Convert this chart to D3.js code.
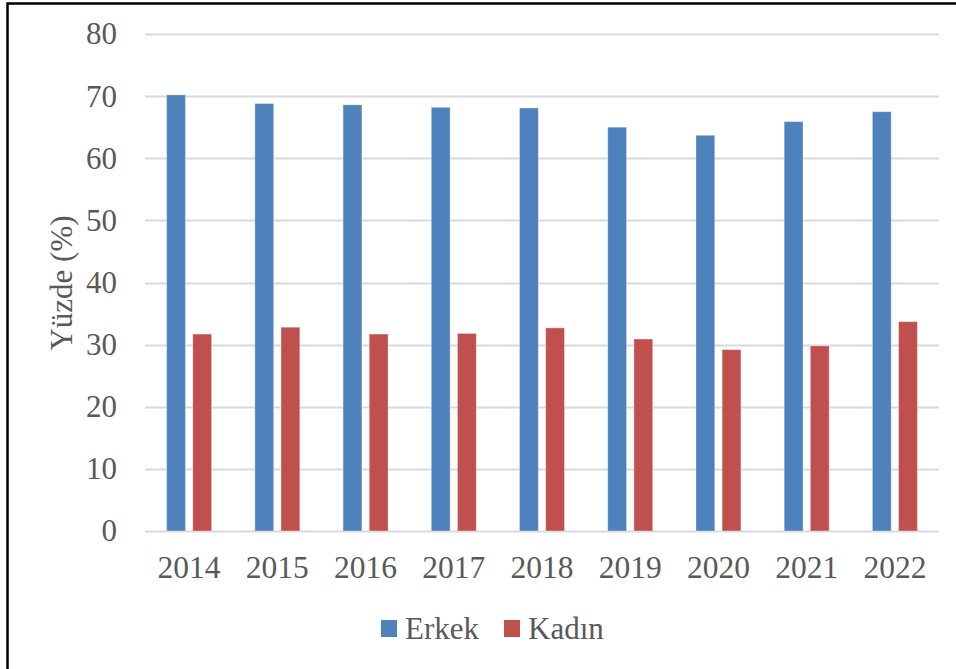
<!DOCTYPE html>
<html>
<head>
<meta charset="utf-8">
<script src="https://cdn.jsdelivr.net/npm/d3@7"></script>
<style>
  html, body { margin: 0; padding: 0; background: #fff; }
  svg { display: block; }
  text { font-family: "Liberation Serif", "Times New Roman", serif; fill: #595959; }
</style>
</head>
<body>
<svg id="chart" width="956" height="669"></svg>
<script>
const years = ["2014","2015","2016","2017","2018","2019","2020","2021","2022"];
const seriesNames = ["Erkek","Kadın"];
const erkek = [70.2, 68.8, 68.6, 68.2, 68.1, 65.0, 63.7, 65.9, 67.5];
const kadin = [31.7, 32.8, 31.7, 31.8, 32.7, 30.9, 29.2, 29.8, 33.7];
const yTicks = [0,10,20,30,40,50,60,70,80];
const colors = ["#4F81BD", "#C0504D"];
const yTitle = "Yüzde (%)";

const svg = d3.select("#chart");
const W = 956, H = 669;
const m = {left: 145, right: 956-939, top: 34, bottom: 669-531};

// outer border
svg.append("rect").attr("x", 7.5).attr("y", 3.5).attr("width", 960).attr("height", 700)
  .attr("fill", "none").attr("stroke", "#000").attr("stroke-width", 2.5);

const x0 = d3.scaleBand().domain(years).range([m.left, W - m.right]).paddingInner(0).paddingOuter(0);
const x1 = d3.scaleBand().domain(seriesNames).range([-22.5, 22.5]).paddingInner(0.28);
const y = d3.scaleLinear().domain([0, 80]).range([H - m.bottom, m.top]);

// gridlines
svg.append("g").selectAll("line").data(yTicks).join("line")
  .attr("x1", m.left).attr("x2", W - m.right)
  .attr("y1", d => Math.round(y(d)) + 0.5).attr("y2", d => Math.round(y(d)) + 0.5)
  .attr("stroke", "#d9d9d9").attr("stroke-width", 2);

// y axis labels
const yAxis = d3.axisLeft(y).tickValues(yTicks).tickSize(0).tickPadding(0);
const gy = svg.append("g").attr("transform", `translate(${117},0)`).call(yAxis);
gy.select(".domain").remove();
gy.selectAll("text").attr("font-size", 31).attr("font-family", "Liberation Serif").attr("fill", "#595959");

// x axis labels
const xAxis = d3.axisBottom(x0).tickSize(0).tickPadding(0);
const gx = svg.append("g").attr("transform", `translate(0,${556})`).call(xAxis);
gx.select(".domain").remove();
gx.selectAll("text").attr("font-size", 31.5).attr("font-family", "Liberation Serif").attr("fill", "#595959");

// bars
const data = years.map((yr, i) => ({year: yr, vals: [erkek[i], kadin[i]]}));
const groups = svg.append("g").selectAll("g").data(data).join("g")
  .attr("transform", d => `translate(${x0(d.year) + x0.bandwidth()/2},0)`);
groups.selectAll("rect").data(d => d.vals.map((v, j) => ({name: seriesNames[j], v, j})))
  .join("rect")
  .attr("x", d => x1(d.name))
  .attr("width", x1.bandwidth())
  .attr("y", d => y(d.v))
  .attr("height", d => y(0) - y(d.v))
  .attr("fill", d => colors[d.j])
  .attr("stroke", "rgba(255,255,255,0.35)").attr("stroke-width", 1);

// y title
svg.append("text")
  .attr("transform", `translate(72,${283}) rotate(-90)`)
  .attr("text-anchor", "middle")
  .attr("font-size", 31)
  .text(yTitle);

// legend
const legend = svg.append("g");
const legendItems = [{name: seriesNames[0], color: colors[0], x: 381}, {name: seriesNames[1], color: colors[1], x: 504}];
legendItems.forEach(it => {
  legend.append("rect").attr("x", it.x).attr("y", 620).attr("width", 16).attr("height", 17).attr("fill", it.color);
  legend.append("text").attr("x", it.x + 24).attr("y", 639).attr("font-size", 31).text(it.name);
});
</script>
</body>
</html>
